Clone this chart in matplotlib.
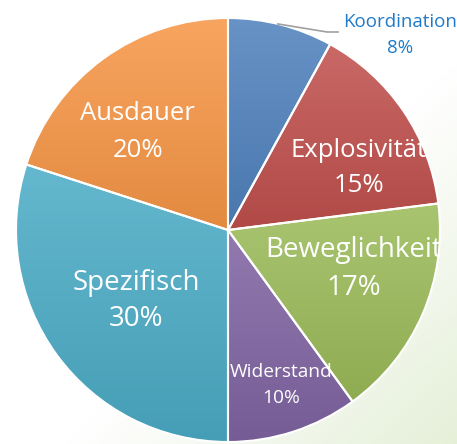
import numpy as np
import matplotlib
matplotlib.use('Agg')
import matplotlib.pyplot as plt
from matplotlib.colors import to_rgb

# data
labels = ['Koordination', 'Explosivität', 'Beweglichkeit', 'Widerstand', 'Spezifisch', 'Ausdauer']
values = [8, 15, 17, 10, 30, 20]
colors = ['#4F81BD', '#C0504D', '#9BBB59', '#8064A2', '#4BACC6', '#F79646']

# label styling (pie units: x centre, baseline of name, baseline of percent) and font sizes
label_x = [0.811, 0.618, 0.594, 0.250, -0.434, -0.425]
name_y = [0.958, 0.344, -0.127, -0.693, -0.283, 0.519]
pct_y = [0.835, 0.179, -0.307, -0.816, -0.453, 0.344]
label_size = [13.5, 18.5, 20, 13.8, 20, 18.5]

plt.rcParams['font.family'] = ['Open Sans', 'DejaVu Sans']

fig = plt.figure(figsize=(4.57, 4.44), dpi=100)

# faint background gradient (bottom right greenish)
bg = fig.add_axes([0, 0, 1, 1])
gx, gy = np.meshgrid(np.linspace(0, 1, 200), np.linspace(0, 1, 200))
t = np.clip((gx + gy - 1.15) / 0.85, 0, 1)[..., None]
img = (1 - t) * np.array([1, 1, 1]) + t * np.array([0.90, 0.94, 0.85])
bg.imshow(img, extent=[0, 1, 0, 1], aspect='auto')
bg.axis('off')

ax = fig.add_axes([16 / 457, 2 / 444, 424 / 457, 424 / 444])
wedges, _ = ax.pie(values, colors=colors, startangle=90, counterclock=False,
                   radius=1, wedgeprops=dict(edgecolor='white', linewidth=1.5))
ax.set_aspect('equal')
ax.axis('off')

# vertical gradient on each slice
for w, c in zip(wedges, colors):
    base = np.array(to_rgb(c))
    light = base + (1 - base) * 0.14
    dark = base * 0.92
    ext = w.get_path().get_extents()
    grad = np.linspace(0, 1, 100)[:, None, None]
    arr = light * (1 - grad) + dark * grad
    im = ax.imshow(arr, extent=[ext.x0, ext.x1, ext.y0, ext.y1], aspect='auto', zorder=0.5)
    im.set_clip_path(w)
    w.set_facecolor('none')
    w.set_zorder(1)

ax.set_xlim(-1, 1)
ax.set_ylim(-1, 1)

# labels
for i, (lab, v) in enumerate(zip(labels, values)):
    col = '#1F7BC8' if i == 0 else 'white'
    ax.text(label_x[i], name_y[i], lab, ha='center', va='baseline', fontsize=label_size[i],
            color=col, clip_on=(i != 0), zorder=3)
    ax.text(label_x[i], pct_y[i], f'{v}%', ha='center', va='baseline', fontsize=label_size[i],
            color=col, clip_on=(i != 0), zorder=3)

# leader line for Koordination
th1, th2 = wedges[0].theta1, wedges[0].theta2
mid = np.deg2rad((th1 + th2) / 2 + 0.8)
ax.plot([np.cos(mid), 0.467, 0.519], [np.sin(mid), 0.934, 0.934],
        color='#A0A0A0', lw=1.2, clip_on=False, zorder=2)

fig.savefig('out.png', dpi=100)
print('Plot saved')
